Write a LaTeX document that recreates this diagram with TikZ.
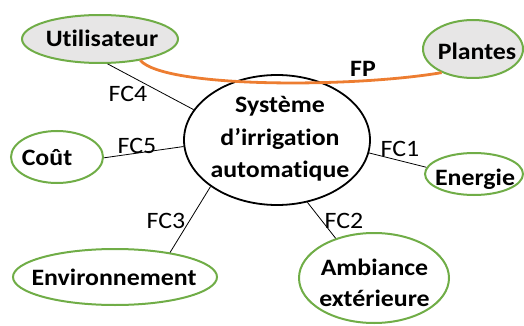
\documentclass[tikz,border=0pt]{standalone}
\usepackage{fontspec}
\setmainfont{Carlito}[FakeStretch=1.1,Ligatures=NoCommon]
\usetikzlibrary{shapes.geometric}
\definecolor{egreen}{HTML}{70AD47}
\definecolor{efill}{HTML}{E7E6E6}
\definecolor{fporange}{HTML}{ED7D31}
\tikzset{
 actor/.style={ellipse, draw=egreen, line width=2pt, inner sep=0pt},
 grayactor/.style={actor, fill=efill},
 sysbox/.style={ellipse, draw=black, line width=1.8pt, inner sep=0pt},
 lbl/.style={font=\fontsize{23.5}{32}\selectfont\bfseries, anchor=base, inner sep=0pt},
 fclbl/.style={font=\fontsize{23.5}{28}\selectfont, anchor=base, inner sep=0pt},
 link/.style={line width=0.8pt},
 fp/.style={draw=fporange, line width=2.8pt},
}
\begin{document}
\begin{tikzpicture}[x=1pt,y=-1pt]
\useasboundingbox (0,0) rectangle (524,326);
% ellipses
\node[grayactor, minimum width=156pt, minimum height=48pt] (util) at (100,39) {};
\node[grayactor, minimum width=100pt, minimum height=58pt] (plantes) at (473,49) {};
\node[actor, minimum width=92pt, minimum height=52pt] (cout) at (57,157) {};
\node[actor, minimum width=98pt, minimum height=42pt] (energie) at (474,174) {};
\node[actor, minimum width=204pt, minimum height=56pt] (env) at (115,277) {};
\node[actor, minimum width=150pt, minimum height=90pt] (amb) at (374,278) {};
\node[sysbox, minimum width=186pt, minimum height=130pt] (sys) at (277,140) {};
% texts
\node[lbl] (utilt) at (102,47) {Utilisateur};
\node[lbl] (plantest) at (477,60) {Plantes};
\node[lbl] (coutt) at (47,165) {Coût};
\node[lbl] (energiet) at (475,185) {Energie};
\node[lbl] (envt) at (114,285) {Environnement};
\node[lbl] (ambt1) at (374.5,275) {Ambiance};
\node[lbl] (ambt2) at (374.5,306) {extérieure};
\node[lbl] (syst1) at (280,113) {Système};
\node[lbl] (syst2) at (280,145) {d’irrigation};
\node[lbl] (syst3) at (280,177) {automatique};
% connectors
\draw[link] (util.-73) -- (sys.160);
\draw[link] (cout.-1) -- (sys.184);
\draw[link] (sys.215) -- (env.24);
\draw[link] (sys.-64) -- (amb.134);
\draw[link] (sys.-8) -- (energie.172);
% FP
\draw[fp] (util.-28.5) .. controls (165,88) and (350,88) .. (plantes.217);
% labels
\node[fclbl] (fc4) at (128,102) {FC4};
\node[fclbl] (fc5) at (137,153) {FC5};
\node[fclbl] (fc3) at (166,228) {FC3};
\node[fclbl] (fc2) at (344,228) {FC2};
\node[fclbl] (fc1) at (400,156) {FC1};
\node[lbl] (fp) at (363,77) {FP};
\end{tikzpicture}
\end{document}
